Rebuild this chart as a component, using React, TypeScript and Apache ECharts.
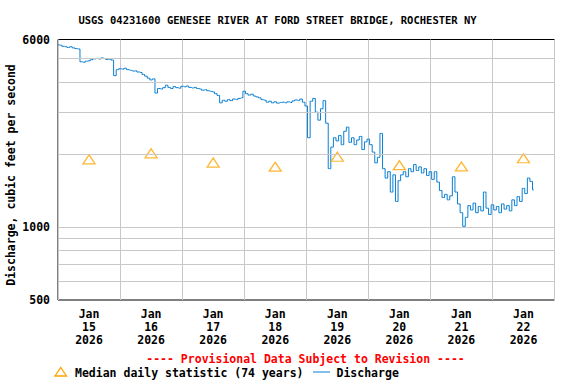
import { useEffect, useRef } from 'react';
import * as echarts from 'echarts';

const TITLE = 'USGS 04231600 GENESEE RIVER AT FORD STREET BRIDGE, ROCHESTER NY';
const Y_NAME = 'Discharge, cubic feet per second';
const PROVISIONAL = '---- Provisional Data Subject to Revision ----';
const LEGEND_MEDIAN = 'Median daily statistic (74 years)';
const LEGEND_DISCHARGE = 'Discharge';

// Day categories (labels centred in each day band)
const MONTH = 'Jan';
const YEAR = '2026';
const DAYS = ['15', '16', '17', '18', '19', '20', '21', '22'];

// Median daily statistic, one per day (plotted at noon)
const MEDIAN = [1913, 2026, 1854, 1784, 1960, 1810, 1788, 1932];

// Discharge, hourly values starting Jan 15 00:00 (ft3/s)
const DISCHARGE = [
  5700, 5680, 5620, 5600, 5560, 5600, 5540, 5500, 5480,
  4850, 4830, 4880, 4900, 4950, 4990, 5010, 4980, 5030, 5000, 4960, 4980, 4930,
  4250, 4500,
  4540, 4520, 4560, 4500, 4470, 4440, 4450, 4400, 4380, 4300, 4230, 4150, 4080, 4120,
  3600, 3760, 3740, 3790, 3880, 3800, 3760, 3830, 3790, 3770,
  3840, 3820, 3850, 3800, 3780, 3800, 3760, 3740, 3700, 3720, 3680, 3660, 3640, 3580, 3520, 3280, 3360, 3330, 3380, 3350, 3400, 3380, 3420, 3440,
  3660, 3580, 3530, 3560, 3500, 3470, 3440, 3380, 3360, 3300, 3330, 3280, 3310, 3270, 3290, 3300, 3280, 3310, 3290, 3340, 3370, 3350, 3400,
  3300, 3180, 2350, 3330, 3420, 3000, 2780, 3100, 3350, 2700, 1750, 2150, 2350, 2280, 2400, 2200, 2500, 2600, 2250, 2350, 2200, 2300, 2380, 2100, 2260, 2320,
  2200, 2050, 1850, 1950, 2450, 1750, 1600, 1700, 1400, 1650, 1280, 1560, 1650, 1700, 1620, 1750, 1700, 1820, 1720, 1780, 1680, 1750, 1640, 1700,
  1580, 1700, 1540, 1420, 1330, 1370, 1300, 1350, 1620, 1400, 1250, 1150, 1010, 1100, 1230, 1180, 1260, 1150, 1220, 1170, 1400, 1200, 1130,
  1240, 1180, 1220, 1150, 1250, 1190, 1230, 1170, 1300, 1230, 1340, 1280, 1450, 1380, 1600, 1550, 1430,
];

const Y_MIN = 500;
const Y_MAX = 6000;
const Y_GRID = [600, 700, 800, 900, 1000, 2000, 3000, 4000, 5000];
const HOURS_MAX = 192;

const FONT_FAMILY = '"DejaVu Sans Mono", "Liberation Mono", monospace';
const GRID_COLOR = '#c8c8c8';
const LINE_COLOR = '#0a7fd2';
const MEDIAN_COLOR = '#ffa500';

export default function App() {
  const ref = useRef<HTMLDivElement>(null);

  useEffect(() => {
    if (!ref.current) return;
    const chart = echarts.init(ref.current, null, { renderer: 'svg' });
    const labelFont = {
      fontFamily: FONT_FAMILY,
      fontWeight: 'bold' as const,
      fontSize: 11.5,
      color: '#000',
    };
    chart.setOption({
      animation: false,
      backgroundColor: '#fff',
      grid: {
        left: 58,
        top: 39.5,
        right: 21.5,
        bottom: 84,
        show: true,
        borderColor: '#000',
        borderWidth: 1,
        backgroundColor: 'transparent',
      },
      xAxis: [
        {
          type: 'category',
          data: DAYS,
          boundaryGap: true,
          axisLine: { show: false },
          axisTick: { show: false },
          splitLine: { show: true, interval: 0, lineStyle: { color: GRID_COLOR, width: 1 } },
          axisLabel: {
            ...labelFont,
            interval: 0,
            lineHeight: 13,
            margin: 7,
            formatter: (d: string) => `${MONTH}\n${d}\n${YEAR}`,
          },
        },
        { type: 'value', min: 0, max: HOURS_MAX, interval: 24, show: false },
      ],
      yAxis: {
        type: 'log',
        logBase: 10,
        min: Y_MIN,
        max: Y_MAX,
        axisLine: { show: false },
        axisTick: { show: false },
        splitLine: { show: false },
        axisLabel: {
          ...labelFont,
          margin: 8,
          formatter: (v: number) => String(Math.round(v)),
        },
      },
      series: [
        {
          type: 'line',
          xAxisIndex: 1,
          data: [],
          silent: true,
          z: 1,
          markLine: {
            silent: true,
            symbol: ['none', 'none'],
            label: { show: false },
            lineStyle: { color: GRID_COLOR, width: 1, type: 'solid' },
            data: Y_GRID.map((v) => ({ yAxis: v })),
          },
        },
        {
          name: LEGEND_DISCHARGE,
          type: 'line',
          xAxisIndex: 1,
          data: DISCHARGE.map((v, i) => [i, v]),
          symbol: 'none',
          step: 'middle',
          lineStyle: { color: LINE_COLOR, width: 1 },
          z: 3,
        },
        {
          name: LEGEND_MEDIAN,
          type: 'scatter',
          xAxisIndex: 0,
          data: MEDIAN,
          symbol: 'triangle',
          symbolSize: [12, 9],
          itemStyle: { color: '#fff', borderColor: MEDIAN_COLOR, borderWidth: 1.3 },
          z: 4,
        },
      ],
      graphic: [
        {
          type: 'text',
          x: 277.5,
          y: 20,
          style: {
            text: TITLE,
            textAlign: 'center',
            textVerticalAlign: 'middle',
            fill: '#000',
            font: `bold 10.5px ${FONT_FAMILY}`,
          },
        },
        {
          type: 'text',
          x: 11,
          y: 175,
          rotation: Math.PI / 2,
          style: {
            text: Y_NAME,
            textAlign: 'center',
            textVerticalAlign: 'middle',
            fill: '#000',
            font: `bold 11.5px ${FONT_FAMILY}`,
          },
        },
        {
          type: 'text',
          x: 305.5,
          y: 359,
          style: {
            text: PROVISIONAL,
            textAlign: 'center',
            textVerticalAlign: 'middle',
            fill: '#ff0000',
            font: `bold 11.5px ${FONT_FAMILY}`,
          },
        },
        {
          type: 'polygon',
          shape: { points: [[55, 376], [66.5, 376], [60.75, 367.5]] },
          style: { fill: '#fff', stroke: MEDIAN_COLOR, lineWidth: 1.3 },
        },
        {
          type: 'text',
          x: 75,
          y: 372.5,
          style: {
            text: LEGEND_MEDIAN,
            textAlign: 'left',
            textVerticalAlign: 'middle',
            fill: '#000',
            font: `bold 11.5px ${FONT_FAMILY}`,
          },
        },
        {
          type: 'line',
          shape: { x1: 313, y1: 372, x2: 330, y2: 372 },
          style: { stroke: LINE_COLOR, lineWidth: 1 },
        },
        {
          type: 'text',
          x: 336.5,
          y: 372.5,
          style: {
            text: LEGEND_DISCHARGE,
            textAlign: 'left',
            textVerticalAlign: 'middle',
            fill: '#000',
            font: `bold 11.5px ${FONT_FAMILY}`,
          },
        },
      ],
    });
    return () => chart.dispose();
  }, []);

  return (
    <div
      ref={ref}
      style={{ position: 'absolute', left: 0, top: 0, width: 576, height: 384 }}
    />
  );
}
